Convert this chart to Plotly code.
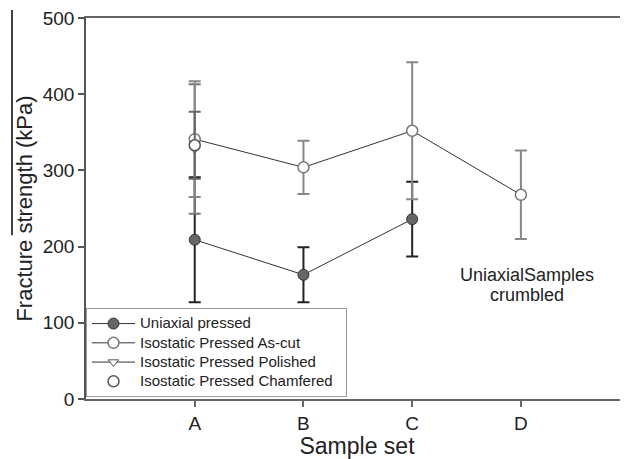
import plotly.graph_objects as go

categories = ["A", "B", "C", "D"]
x_pos = [1, 2, 3, 4]

uniaxial_x = [1, 2, 3]
uniaxial_y = [209, 163, 236]
uniaxial_err = [82, 36, 49]

ascut_x = [1, 2, 3, 4]
ascut_y = [341, 304, 352, 268]
ascut_err = [76, 35, 90, 58]

polished_x = [1]
polished_y = [328]
polished_err = [85]

chamfered_x = [1]
chamfered_y = [333]
chamfered_err = [44]

note_lines = ["UniaxialSamples", "crumbled"]
note_y = [163, 137]

FONT = "Liberation Sans, Arial, sans-serif"


def lg(name):
    return "<span style='font-size:15px'>" + name + "&nbsp;&nbsp;</span>"


fig = go.Figure()

fig.add_trace(go.Scatter(
    x=uniaxial_x, y=uniaxial_y, mode="lines+markers", name=lg("Uniaxial pressed"),
    legendrank=1,
    line=dict(color="#333333", width=1),
    marker=dict(symbol="circle", size=11, color="#666666", line=dict(color="#333333", width=1)),
    error_y=dict(type="data", array=uniaxial_err, color="#222222", thickness=2, width=6),
))
fig.add_trace(go.Scatter(
    x=polished_x, y=polished_y, mode="lines+markers", name=lg("Isostatic Pressed Polished"),
    legendrank=3,
    line=dict(color="#333333", width=1),
    marker=dict(symbol="triangle-down", size=9, color="white", line=dict(color="#555555", width=1)),
    error_y=dict(type="data", array=polished_err, color="#777777", thickness=2, width=6),
))
fig.add_trace(go.Scatter(
    x=ascut_x, y=ascut_y, mode="lines+markers", name=lg("Isostatic Pressed As-cut"),
    legendrank=2,
    line=dict(color="#333333", width=1),
    marker=dict(symbol="circle", size=11, color="white", line=dict(color="#777777", width=1.5)),
    error_y=dict(type="data", array=ascut_err, color="#888888", thickness=2, width=6),
))
fig.add_trace(go.Scatter(
    x=chamfered_x, y=chamfered_y, mode="markers", name=lg("Isostatic Pressed Chamfered"),
    legendrank=4,
    marker=dict(symbol="circle", size=11, color="white", line=dict(color="#555555", width=1.5)),
    error_y=dict(type="data", array=chamfered_err, color="#666666", thickness=2, width=6),
))

for txt, yy in zip(note_lines, note_y):
    fig.add_annotation(
        x=4.06, y=yy, text=txt, showarrow=False,
        font=dict(family=FONT, size=18, color="#222222"), align="center",
    )

fig.add_shape(type="line", xref="paper", yref="paper",
              x0=-0.1365, x1=-0.1365, y0=1.021, y1=0.43,
              line=dict(color="black", width=1.5))

# the page adds an 8px body margin, so the figure is sized/offset to compensate
fig.update_layout(
    template="none",
    width=620, height=451,
    margin=dict(l=78, r=0, t=10, b=60, pad=0),
    paper_bgcolor="white", plot_bgcolor="white",
    font=dict(family=FONT, color="#222222"),
    showlegend=True,
    legend=dict(
        x=0, y=0.239, xanchor="left", yanchor="top",
        bgcolor="white", bordercolor="#999999", borderwidth=1,
        font=dict(family=FONT, size=12.5, color="#222222"),
        tracegroupgap=0, itemwidth=43,
    ),
    xaxis=dict(
        automargin=False,
        range=[0, 4.985], tickmode="array", tickvals=x_pos, ticktext=categories,
        showgrid=False, zeroline=False, showline=True, linecolor="#666666", linewidth=1.5,
        mirror=True, ticks="outside", ticklen=6, tickcolor="#666666", tickwidth=1.5,
        tickfont=dict(family=FONT, size=19, color="#222222"),
        title=dict(text="Sample set", font=dict(family=FONT, size=23, color="#222222")),
    ),
    yaxis=dict(
        automargin=False, ticklabeloverflow="allow",
        range=[0, 500], tickvals=[0, 100, 200, 300, 400, 500],
        showgrid=False, zeroline=False, showline=True, linecolor="#555555", linewidth=1.5,
        ticks="outside", ticklen=6, tickcolor="#555555", tickwidth=1.5,
        tickfont=dict(family=FONT, size=19, color="#222222"),
        title=dict(text="Fracture strength (kPa)", font=dict(family=FONT, size=22, color="#222222")),
    ),
)

fig.write_html("out.html")
